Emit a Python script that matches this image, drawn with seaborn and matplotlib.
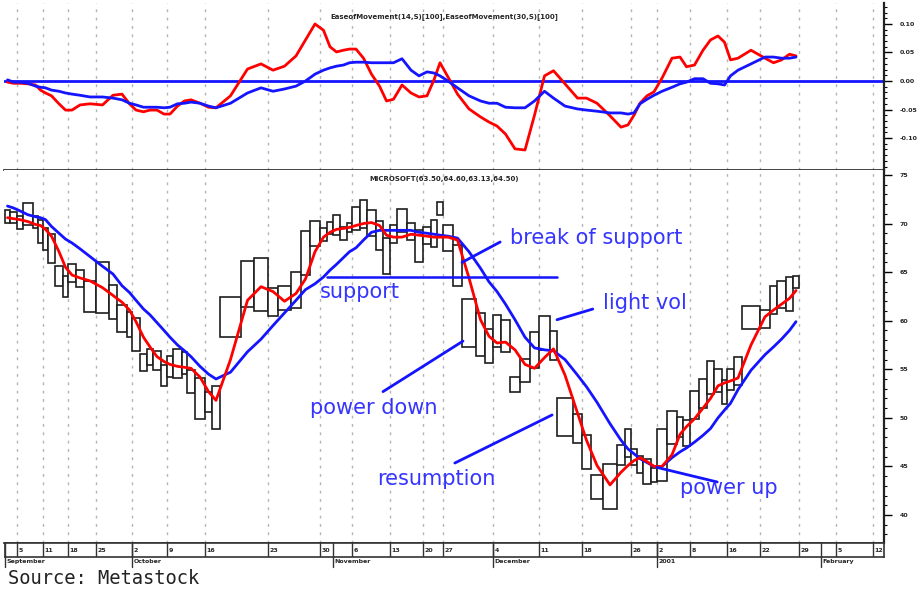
import numpy as np
import pandas as pd
import matplotlib
matplotlib.use("Agg")
import matplotlib.pyplot as plt
from matplotlib.ticker import MultipleLocator, FixedLocator, FormatStrFormatter
import seaborn as sns

# Microsoft equivolume boxes, end Aug 2000 - Jan 2001
high = [71.4, 71.2, 70.8, 72.1, 70.8, 70.4, 69.5, 68.9, 65.6, 64.6,
        65.8, 65.2, 64.1, 66.0, 63.7, 61.6, 60.9, 60.3, 56.6, 57.1,
        56.9, 55.4, 56.4, 57.1, 56.8, 54.9, 54.1, 52.7, 53.3, 62.4,
        66.1, 66.5, 63.4, 63.6, 65.0, 69.2, 70.3, 69.5, 70.2, 70.9,
        69.6, 70.1, 71.7, 72.4, 71.4, 70.3, 68.5, 69.9, 71.5, 70.1,
        69.3, 69.6, 70.4, 72.2, 69.8, 67.8, 62.2, 60.8, 59.1, 60.6,
        60.1, 54.2, 56.1, 58.8, 60.5, 58.9, 52.0, 50.4, 48.2, 44.1,
        45.3, 47.2, 48.9, 46.8, 46.1, 45.8, 44.8, 48.9, 50.7, 50.1,
        49.8, 52.8, 54.0, 55.9, 55.0, 53.9, 55.0, 56.3, 61.5, 61.1,
        63.6, 64.1, 64.5, 64.6]
low = [70.1, 70.1, 69.4, 69.9, 69.5, 68.0, 67.3, 65.9, 63.6, 62.4,
       64.0, 63.5, 60.9, 60.8, 60.2, 58.8, 58.3, 56.9, 54.8, 55.4,
       54.9, 53.3, 54.2, 54.1, 54.5, 52.6, 49.9, 50.6, 48.9, 58.3,
       61.4, 61.0, 60.5, 61.1, 61.3, 64.7, 67.7, 68.2, 68.9, 68.8,
       68.3, 69.1, 69.3, 69.5, 68.7, 67.3, 64.8, 68.0, 69.1, 68.3,
       66.0, 67.9, 67.6, 70.9, 67.2, 63.6, 57.3, 56.4, 55.6, 57.3,
       56.8, 52.7, 53.7, 55.1, 57.0, 56.0, 48.1, 47.4, 44.7, 41.6,
       40.6, 45.1, 46.0, 45.1, 44.3, 43.2, 43.4, 43.5, 47.3, 48.0,
       47.1, 49.9, 51.0, 52.5, 52.7, 51.4, 52.9, 53.4, 59.1, 59.2,
       60.7, 61.3, 61.0, 63.4]
# daily volume (M shares) -> box width
volume = [30, 42, 36, 60, 30, 30, 30, 42, 48, 30,
          48, 48, 72, 78, 48, 60, 30, 48, 42, 36,
          48, 36, 36, 54, 30, 48, 60, 42, 48, 126,
          78, 84, 60, 78, 60, 54, 60, 42, 36, 42,
          42, 30, 48, 42, 54, 42, 42, 42, 60, 48,
          48, 48, 36, 36, 60, 54, 84, 54, 48, 48,
          54, 60, 60, 54, 66, 42, 96, 54, 54, 72,
          84, 48, 36, 36, 36, 48, 36, 60, 60, 36,
          42, 54, 48, 42, 48, 30, 42, 48, 108, 60,
          42, 54, 42, 36]

# moving averages of price
ma_fast = [70.6, 70.5, 70.4, 70.2, 69.9, 69.8, 69.4, 68.7, 67.1, 65.5,
           64.7, 64.4, 64.1, 63.4, 62.6, 61.9, 61.1, 59.9, 58.3, 57.3,
           56.3, 55.8, 55.5, 55.3, 55.2, 55.1, 54.2, 52.7, 51.8, 56.0,
           62.1, 63.5, 63.0, 62.0, 62.8, 64.3, 67.1, 68.6, 69.1, 69.4,
           69.5, 69.6, 69.8, 70.0, 70.1, 69.8, 68.8, 68.6, 68.6, 68.9,
           68.8, 68.7, 68.6, 68.6, 68.6, 68.3, 64.4, 60.1, 58.4, 57.7,
           57.8, 57.0, 55.5, 55.1, 56.2, 57.1, 54.4, 50.5, 47.7, 45.1,
           43.1, 44.4, 45.1, 45.6, 45.9, 45.5, 45.0, 45.0, 46.2, 48.3,
           49.1, 49.9, 51.0, 52.0, 53.3, 53.6, 53.8, 54.1, 57.5, 60.4,
           61.1, 61.7, 62.3, 63.1]
ma_slow = [71.8, 71.6, 71.3, 70.9, 70.7, 70.6, 70.4, 69.7, 69.0, 68.4,
           68.0, 67.4, 66.6, 65.6, 64.8, 63.6, 62.9, 62.1, 61.2, 60.6,
           59.8, 59.0, 58.3, 57.5, 56.9, 56.3, 55.3, 54.5, 54.0, 54.7,
           56.8, 58.1, 59.5, 60.8, 62.1, 63.2, 63.8, 64.5, 65.2, 65.8,
           66.5, 67.1, 67.5, 68.3, 69.1, 69.3, 69.3, 69.3, 69.3, 69.3,
           69.1, 69.0, 68.9, 68.8, 68.7, 68.5, 67.1, 65.4, 64.0, 63.0,
           61.7, 60.1, 58.3, 57.2, 57.0, 56.9, 56.0, 54.4, 53.2, 51.6,
           49.4, 47.7, 46.8, 46.3, 45.8, 45.4, 45.0, 45.0, 45.9, 46.5,
           46.9, 47.5, 48.2, 48.9, 50.0, 50.8, 51.5, 52.9, 54.9, 56.5,
           57.3, 58.1, 59.0, 59.9]

# Ease of Movement, two smoothings
eom_fast = [-0.002, -0.004, -0.004, -0.005, -0.007, -0.016, -0.021, -0.026, -0.040, -0.051,
            -0.051, -0.042, -0.040, -0.042, -0.025, -0.023, -0.040, -0.051, -0.054, -0.051,
            -0.051, -0.058, -0.058, -0.044, -0.035, -0.033, -0.039, -0.046, -0.047, -0.026,
            0.021, 0.030, 0.019, 0.026, 0.044, 0.072, 0.100, 0.089, 0.060, 0.051,
            0.054, 0.056, 0.056, 0.040, 0.012, -0.009, -0.035, -0.032, -0.007, -0.021,
            -0.028, -0.026, 0.002, 0.032, 0.007, -0.023, -0.049, -0.063, -0.072, -0.079,
            -0.093, -0.119, -0.121, -0.060, 0.009, 0.018, -0.005, -0.030, -0.030, -0.039,
            -0.061, -0.081, -0.077, -0.060, -0.039, -0.026, -0.019, 0.005, 0.040, 0.042,
            0.025, 0.028, 0.054, 0.072, 0.079, 0.068, 0.037, 0.040, 0.054, 0.040,
            0.032, 0.037, 0.047, 0.044]
eom_slow = [0.002, -0.002, -0.002, -0.004, -0.009, -0.011, -0.012, -0.016, -0.018, -0.021,
            -0.023, -0.025, -0.028, -0.028, -0.030, -0.033, -0.039, -0.042, -0.046, -0.046,
            -0.046, -0.047, -0.046, -0.040, -0.039, -0.037, -0.039, -0.044, -0.047, -0.039,
            -0.021, -0.012, -0.018, -0.014, -0.009, 0.000, 0.012, 0.019, 0.023, 0.026,
            0.028, 0.032, 0.033, 0.033, 0.032, 0.032, 0.032, 0.032, 0.039, 0.019,
            0.009, 0.016, 0.014, 0.009, 0.000, -0.012, -0.026, -0.035, -0.039, -0.039,
            -0.046, -0.047, -0.047, -0.035, -0.018, -0.030, -0.044, -0.049, -0.051, -0.053,
            -0.056, -0.056, -0.058, -0.056, -0.040, -0.032, -0.025, -0.018, -0.011, -0.005,
            -0.002, 0.004, 0.004, -0.004, -0.005, -0.007, 0.009, 0.019, 0.030, 0.042,
            0.042, 0.040, 0.040, 0.042]
eom_ticks = [-0.10, -0.05, 0.00, 0.05, 0.10]

# weekly date axis: box where each week starts
week_labels = ["5", "11", "18", "25", "2", "9", "16", "23", "30", "6", "13", "20", "27",
               "4", "11", "18", "26", "2", "8", "16", "22", "29"]
week_bar = [2, 6, 10, 13, 17, 22, 27, 32, 37, 42, 47, 51, 54,
            59, 64, 68, 73, 77, 81, 86, 89, 94]
future_labels = ["5", "12"]
month_labels = ["September", "October", "November", "December", "2001"]
month_bar = [0, 17, 39, 59, 77]

support_price = 64.45
support_span = (38, 66)
# annotation text: (box index, price)
notes = [("break of support", 61.0, 68.5), ("support", 37.0, 63.0),
         ("light vol", 70.0, 61.8), ("power down", 36.0, 51.0),
         ("resumption", 45.1, 43.7), ("power up", 79.5, 42.8)]
pointers = [((56.0, 66.0), (59.9, 68.1)), ((66.0, 60.1), (69.15, 61.2)),
            ((46.0, 52.7), (56.07, 57.9)), ((55.2, 45.35), (65.3, 50.3)),
            ((77.0, 44.9), (84.4, 43.4))]

sns.set_style("white")
plt.rcParams["font.family"] = ["DejaVu Sans"]

edges = np.concatenate([[0], np.cumsum(volume)])
centers = (edges[:-1] + edges[1:]) / 2


def pos(i):
    return np.interp(i, np.arange(len(edges)), edges)


week_vol = (edges[week_bar[-1]] - edges[week_bar[0]]) / (len(week_bar) - 1)
week_x = list(edges[week_bar]) + [edges[-1] + week_vol * k for k in (1, 2)]
all_week_labels = week_labels + future_labels
month_x = list(edges[month_bar]) + [edges[-1] + 0.6 * week_vol]
all_months = month_labels + ["February"]

W, H = 921, 590
fig = plt.figure(figsize=(W / 100, H / 100), dpi=100)
x_lo, x_hi = -6, 5274
ax_up = fig.add_axes([4 / W, 1 - 170 / H, 880 / W, 167 / H])
ax_lo = fig.add_axes([4 / W, 1 - 543 / H, 880 / W, 373 / H])
ax_dt = fig.add_axes([5 / W, 1 - 557 / H, 879 / W, 14 / H])

blue = "#1414ff"
red = "#ff0000"
grid_kw = dict(color="#b4b4b4", lw=1, ls=(0, (2, 4)), zorder=0)

df = pd.DataFrame({"pos": centers, "ma_fast": ma_fast, "ma_slow": ma_slow,
                   "eom_fast": eom_fast, "eom_slow": eom_slow})

# upper panel: ease of movement
for wx in week_x:
    ax_up.axvline(wx, **grid_kw)
ax_up.axhline(0, color=blue, lw=2, zorder=2)
sns.lineplot(data=df, x="pos", y="eom_fast", color=red, lw=2, ax=ax_up, zorder=3)
sns.lineplot(data=df, x="pos", y="eom_slow", color=blue, lw=2, ax=ax_up, zorder=4)
ax_up.set_ylim(-0.1561, 0.1368)
ax_up.yaxis.set_major_locator(FixedLocator(eom_ticks))
ax_up.yaxis.set_minor_locator(MultipleLocator(0.01))
ax_up.yaxis.set_major_formatter(FormatStrFormatter("%.2f"))
ax_up.text(0.5, 0.91, "EaseofMovement(14,S)[100],EaseofMovement(30,S)[100]",
           transform=ax_up.transAxes, fontsize=5, fontweight="bold", ha="center")

# lower panel: equivolume boxes with moving averages
for wx in week_x:
    ax_lo.axvline(wx, **grid_kw)
ax_lo.bar(edges[:-1], np.array(high) - np.array(low), width=volume, bottom=low,
          align="edge", facecolor="white", edgecolor="#1e1e1e", linewidth=1.2, zorder=2)
sns.lineplot(data=df, x="pos", y="ma_slow", color=blue, lw=2, ax=ax_lo, zorder=3)
sns.lineplot(data=df, x="pos", y="ma_fast", color=red, lw=2, ax=ax_lo, zorder=4)
ax_lo.plot([pos(support_span[0]), pos(support_span[1])], [support_price] * 2,
           color=blue, lw=1.8, zorder=5)
for (a, pa), (b, pb) in pointers:
    ax_lo.plot([pos(a), pos(b)], [pa, pb], color=blue, lw=2, zorder=5)
for txt, i, p in notes:
    ax_lo.text(pos(i), p, txt, color="#3535ff", fontsize=15, va="center", ha="left", zorder=6)
ax_lo.set_ylim(37.12, 75.51)
ax_lo.yaxis.set_major_locator(MultipleLocator(5))
ax_lo.yaxis.set_minor_locator(MultipleLocator(1))
ax_lo.yaxis.set_major_formatter(FormatStrFormatter("%d"))
ax_lo.text(0.5, 0.985, "MICROSOFT(63.50,64.60,63.13,64.50)", transform=ax_lo.transAxes,
           fontsize=5, fontweight="bold", ha="center", va="top")

for ax in (ax_up, ax_lo):
    ax.set_xlim(x_lo, x_hi)
    ax.set_xticks([])
    ax.set_xlabel("")
    ax.set_ylabel("")
    ax.yaxis.tick_right()
    ax.tick_params(axis="y", which="major", length=5.5, width=1, color="black",
                   labelsize=4.5, pad=6, direction="out")
    ax.tick_params(axis="y", which="minor", length=2.5, width=0.8, color="black",
                   direction="out")
    for lab in ax.get_yticklabels():
        lab.set_fontweight("bold")
    for side in ("left", "top"):
        ax.spines[side].set_visible(False)
    ax.spines["right"].set_color("#222222")
    ax.spines["right"].set_linewidth(1.6)
    ax.spines["bottom"].set_color("#222222")
    ax.spines["bottom"].set_linewidth(1.2)

# date strip
ax_dt.set_xlim(0, x_hi)
ax_dt.set_ylim(0, 1)
ax_dt.set_xticks([])
ax_dt.set_yticks([])
for s in ax_dt.spines.values():
    s.set_color("#333333")
    s.set_linewidth(1.2)
for wx, lab in zip(week_x, all_week_labels):
    ax_dt.axvline(wx, color="#333333", lw=1)
    ax_dt.text(wx + 8, 0.5, lab, fontsize=4.5, fontweight="bold", va="center", ha="left")
for mx, lab in zip(month_x, all_months):
    ax_dt.plot([mx, mx], [1, -0.7], color="#333333", lw=1, clip_on=False)
    ax_dt.text(mx + 8, -0.15, lab, fontsize=4.5, fontweight="bold", va="top", ha="left")

fig.text(8 / W, 1 - 578 / H, "Source: Metastock", fontsize=13.5, family="DejaVu Sans Mono",
         color="#222222", va="center", ha="left")

fig.savefig("out.png", dpi=100)
